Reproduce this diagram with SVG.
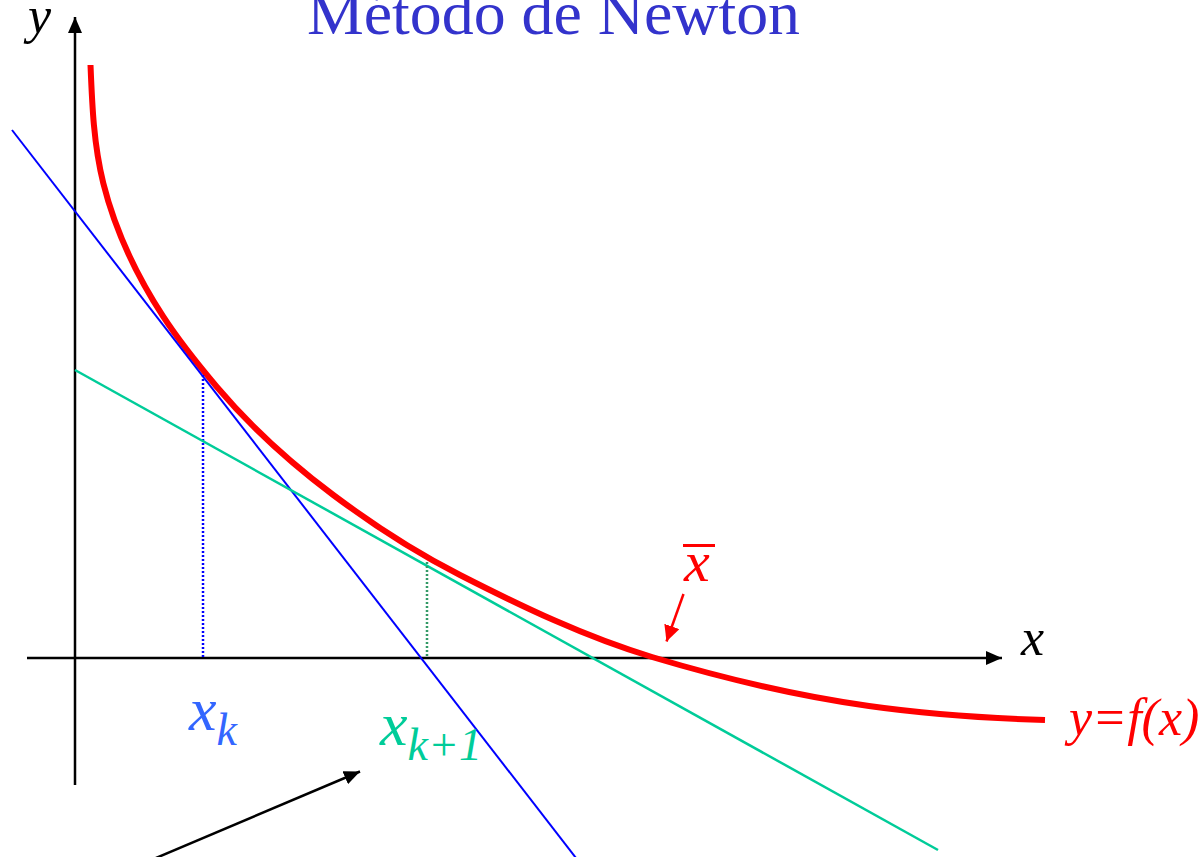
<svg xmlns="http://www.w3.org/2000/svg" width="1202" height="857" viewBox="0 0 1202 857">
<style>
.lbl{font-family:"Liberation Serif","Times New Roman",serif;font-style:italic}
.title{font-family:"Liberation Serif","Times New Roman",serif;fill:#3333CC}
.axis{stroke:#000;stroke-width:2.5;fill:none}
</style>
<defs>
<marker id="ah-black" viewBox="0 0 16 14" refX="16" refY="7" markerWidth="16" markerHeight="14" markerUnits="userSpaceOnUse" orient="auto">
<path d="M0,0 L16,7 L0,14 z" fill="#000"/>
</marker>
<marker id="ah-red" viewBox="0 0 16 16" refX="16" refY="8" markerWidth="16" markerHeight="16" markerUnits="userSpaceOnUse" orient="auto">
<path d="M0,0 L16,8 L0,16 z" fill="#FF0000"/>
</marker>
</defs>
<rect width="1202" height="857" fill="#fff"/>
<g id="title">
<text class="title" x="307" y="33.5" font-size="62" textLength="493" lengthAdjust="spacingAndGlyphs">Método de Newton</text>
</g>
<g id="axes">
<line class="axis" x1="75" y1="785" x2="75" y2="17" marker-end="url(#ah-black)"/>
<line class="axis" x1="27" y1="658" x2="1002" y2="658" marker-end="url(#ah-black)"/>
<text class="lbl" x="28" y="33" font-size="52" fill="#000">y</text>
<text class="lbl" x="1021" y="655" font-size="52" fill="#000">x</text>
</g>
<g id="curve">
<path d="M90.5,65 C92.1,104.7 93.65,144.8 103.3,183.3 C115.16,230.6 136.7,275.8 163.3,316.7 C179.3,341.3 197.8,364.3 216.7,386.7 C250.9,427.1 290.9,463.2 333.3,495 C373.2,524.9 415.5,552.3 460,575 C522,606.6 585.3,637 652,657 C723.1,678.3 795.5,695.7 869,706 C927.3,714.2 986.1,718.2 1045,720" fill="none" stroke="#FF0000" stroke-width="6"/>
<text class="lbl" x="1069" y="735" font-size="52" fill="#FF0000">y=f(x)</text>
</g>
<g id="tangent-k">
<line x1="12" y1="130" x2="576" y2="858" stroke="#0000FF" stroke-width="2"/>
<line x1="203" y1="375" x2="203" y2="657" stroke="#0000FF" stroke-width="2.5" stroke-dasharray="2 2"/>
<text class="lbl" x="189" y="730" font-size="62" fill="#3366FF">x<tspan font-size="46" dy="15">k</tspan></text>
</g>
<g id="tangent-k1">
<line x1="75" y1="370" x2="938" y2="850" stroke="#00CC99" stroke-width="2.5"/>
<line x1="427" y1="562" x2="427" y2="657" stroke="#339966" stroke-width="2.5" stroke-dasharray="2 2"/>
<text class="lbl" x="380" y="745" font-size="62" fill="#00CC99">x<tspan font-size="46" dy="15">k+1</tspan></text>
</g>
<g id="root">
<line x1="683" y1="545.5" x2="715" y2="545.5" stroke="#FF0000" stroke-width="3"/>
<text class="lbl" x="684" y="580.5" font-size="58" fill="#FF0000">x</text>
</g>
<g id="connectors">
<line x1="683.5" y1="594" x2="666.5" y2="641.5" stroke="#FF0000" stroke-width="2.5" marker-end="url(#ah-red)"/>
<line x1="130" y1="869" x2="360" y2="771.5" stroke="#000" stroke-width="2.5" marker-end="url(#ah-black)"/>
</g>
</svg>
